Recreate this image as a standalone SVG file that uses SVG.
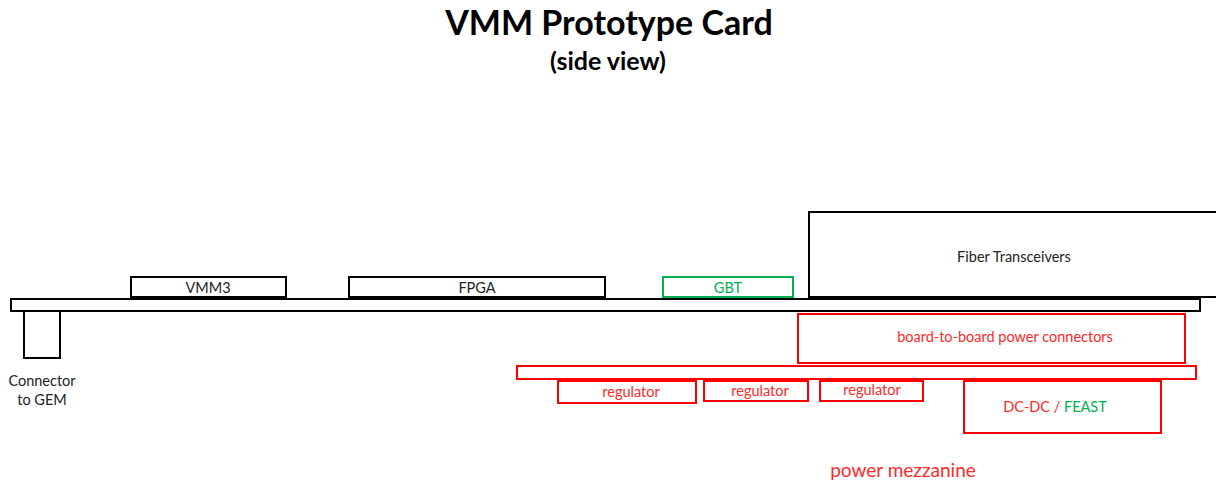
<svg xmlns="http://www.w3.org/2000/svg" width="1216" height="483" viewBox="0 0 1216 483">
  <style>
    text { font-family: Lato, "Open Sans", "Liberation Sans", sans-serif; text-anchor: middle; }
    .title { font-weight: bold; fill: #000; }
    .blk { fill: #fff; stroke: #000; stroke-width: 2; }
    .red { fill: #fff; stroke: #ff0000; stroke-width: 2; }
    .grn { fill: #fff; stroke: #00b050; stroke-width: 2; }
    .lbl { font-size: 14.5px; fill: #222; }
    .rlbl { font-size: 14.5px; fill: #ff2a2a; }
    .glbl { fill: #00b050; }
  </style>

  <!-- heading -->
  <text class="title" x="609" y="35" font-size="34">VMM Prototype Card</text>
  <text class="title" x="608" y="70" font-size="25">(side view)</text>

  <!-- main card -->
  <g id="card">
    <rect class="blk" x="11" y="299" width="1189" height="12"/>
  </g>
  <g id="gem-connector">
    <rect class="blk" x="24" y="311" width="36" height="47"/>
    <text class="lbl" x="42" y="386">Connector</text>
    <text class="lbl" x="42" y="405">to GEM</text>
  </g>
  <g id="vmm3">
    <rect class="blk" x="131" y="277" width="155" height="20"/>
    <text class="lbl" x="208" y="293">VMM3</text>
  </g>
  <g id="fpga">
    <rect class="blk" x="349" y="277" width="256" height="20"/>
    <text class="lbl" x="477" y="293">FPGA</text>
  </g>
  <g id="gbt">
    <rect class="grn" x="663" y="277" width="130" height="20"/>
    <text class="lbl glbl" x="728" y="293">GBT</text>
  </g>
  <g id="fiber">
    <rect class="blk" x="809" y="212" width="420" height="85"/>
    <text class="lbl" x="1014" y="262">Fiber Transceivers</text>
  </g>

  <!-- power mezzanine -->
  <g id="b2b">
    <rect class="red" x="798" y="314" width="387" height="49"/>
    <text class="rlbl" x="1005" y="342">board-to-board power connectors</text>
  </g>
  <g id="mezzanine">
    <rect class="red" x="517" y="366" width="679" height="13"/>
  </g>
  <g id="reg1">
    <rect class="red" x="558" y="381" width="138" height="22"/>
    <text class="rlbl" x="631" y="397">regulator</text>
  </g>
  <g id="reg2">
    <rect class="red" x="704" y="381" width="104" height="20"/>
    <text class="rlbl" x="760" y="396">regulator</text>
  </g>
  <g id="reg3">
    <rect class="red" x="820" y="381" width="103" height="20"/>
    <text class="rlbl" x="872" y="395">regulator</text>
  </g>
  <g id="dcdc">
    <rect class="red" x="964" y="381" width="197" height="52"/>
    <text class="rlbl" x="1055" y="412">DC-DC / <tspan class="glbl">FEAST</tspan></text>
  </g>
  <text x="903" y="477" font-size="19" fill="#ff2a2a">power mezzanine</text>

  <g id="connectors"/>
</svg>
